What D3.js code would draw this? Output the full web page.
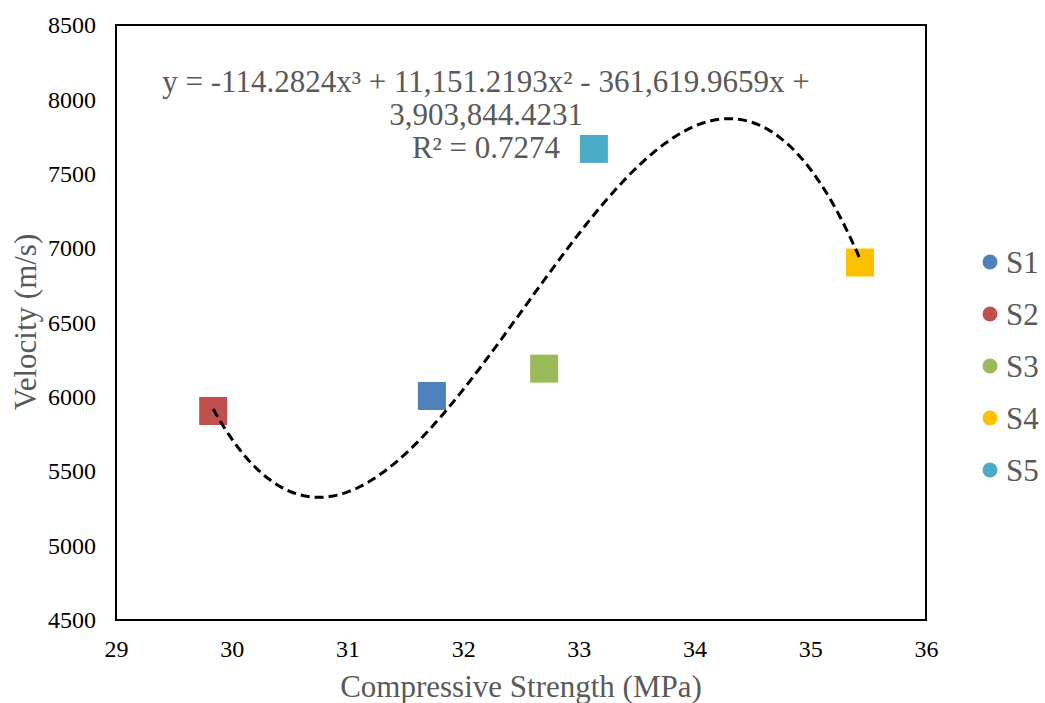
<!DOCTYPE html>
<html><head><meta charset="utf-8">
<script src="https://cdn.jsdelivr.net/npm/d3@7"></script>
<style>body{margin:0;background:#fff}svg{display:block}</style>
</head><body>
<svg id="c" width="1045" height="703"></svg>
<script>
const series = ["S1","S2","S3","S4","S5"];
const strength = [31.73, 29.84, 32.70, 35.43, 33.13];
const velocity = [6006, 5905, 6190, 6903, 7667];
const colors = ["#4F81BD","#C0504D","#9BBB59","#FFC000","#4BACC6"];
const xTicks = [29,30,31,32,33,34,35,36];
const yTicks = [4500,5000,5500,6000,6500,7000,7500,8000,8500];
const coef = [-114.2824, 11151.2193, -361619.9659, 3903844.4231];
const eqLines = ["y = -114.2824x³ + 11,151.2193x² - 361,619.9659x +", "3,903,844.4231", "R² = 0.7274"];

const svg = d3.select("#c");
const L=116, R=926, T=25, B=620;
const x = d3.scaleLinear().domain([29,36]).range([L,R]);
const y = d3.scaleLinear().domain([4500,8500]).range([B,T]);
const font = "'Liberation Serif','Times New Roman',serif";

// axes labels
const xa = svg.append("g").attr("transform",`translate(0,${B})`)
  .call(d3.axisBottom(x).tickValues(xTicks).tickSize(0).tickPadding(20).tickFormat(d3.format("d")));
xa.select(".domain").remove();
xa.attr("font-family",font).attr("font-size",24);
xa.selectAll("text").attr("fill","#000");
const ya = svg.append("g").attr("transform",`translate(${L},0)`)
  .call(d3.axisLeft(y).tickValues(yTicks).tickSize(0).tickPadding(20).tickFormat(d3.format("d")));
ya.select(".domain").remove();
ya.attr("font-family",font).attr("font-size",24);
ya.selectAll("text").attr("fill","#000");

// frame
svg.append("rect").attr("x",L).attr("y",T).attr("width",R-L).attr("height",B-T)
  .attr("fill","none").attr("stroke","#000").attr("stroke-width",2);

// markers
const s = 28;
svg.selectAll("rect.pt").data(series).enter().append("rect")
  .attr("class","pt")
  .attr("x",(d,i)=>x(strength[i])-s/2).attr("y",(d,i)=>y(velocity[i])-s/2)
  .attr("width",s).attr("height",s).attr("fill",(d,i)=>colors[i]);

// trendline
const xs = d3.extent(strength);
const f = v => ((coef[0]*v + coef[1])*v + coef[2])*v + coef[3];
const pts = d3.range(0,201).map(i => xs[0] + (xs[1]-xs[0])*i/200);
svg.append("path").attr("d", d3.line().x(d=>x(d)).y(d=>y(f(d)))(pts))
  .attr("fill","none").attr("stroke","#000").attr("stroke-width",3)
  .attr("stroke-dasharray","9,5");

// equation
const eq = svg.append("text").attr("font-family",font).attr("font-size",31).attr("fill","#595959")
  .attr("text-anchor","middle");
eqLines.forEach((t,i)=>eq.append("tspan").attr("x",486).attr("y",92+i*33).text(t));

// axis titles
svg.append("text").attr("x",(L+R)/2).attr("y",697).attr("text-anchor","middle")
  .attr("font-family",font).attr("font-size",31).attr("fill","#595959").text("Compressive Strength (MPa)");
svg.append("text").attr("transform",`translate(36,322) rotate(-90)`).attr("text-anchor","middle")
  .attr("font-family",font).attr("font-size",31).attr("fill","#595959").text("Velocity (m/s)");

// legend
const lg = svg.append("g");
series.forEach((d,i)=>{
  const cy = 262 + i*52;
  lg.append("circle").attr("cx",990).attr("cy",cy).attr("r",7.5).attr("fill",colors[i]);
  lg.append("text").attr("x",1006).attr("y",cy+11).attr("font-family",font).attr("font-size",31)
    .attr("fill","#595959").text(d);
});
</script>
</body></html>
